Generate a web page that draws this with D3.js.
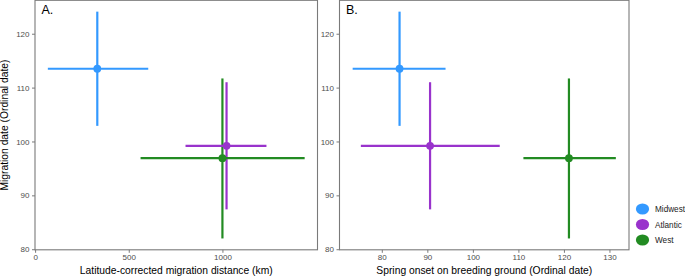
<!DOCTYPE html>
<html>
<head>
<meta charset="utf-8">
<script src="https://cdn.jsdelivr.net/npm/d3@7"></script>
<style>
  html, body { margin: 0; padding: 0; background: #fff; }
  svg { display: block; }
  text { font-family: "Liberation Sans", Arial, Helvetica, sans-serif; }
</style>
</head>
<body>
<svg id="chart" width="685" height="277"></svg>
<script>
// ---- data ----
const groups = ["Midwest", "Atlantic", "West"];
const groupColors = ["#3399FF", "#9933CC", "#228B22"];

// Panel A: latitude-corrected migration distance (km)
const distance     = [332, 1022, 1000];
const distanceLow  = [68, 803, 563];
const distanceHigh = [604, 1235, 1439];

// Migration date (ordinal date) - shared y
const migDate     = [113.5, 99.2, 96.9];
const migDateLow  = [102.9, 87.4, 82.0];
const migDateHigh = [124.1, 111.0, 111.7];

// Panel B: spring onset on breeding ground (ordinal date)
const onset     = [83.9, 90.6, 121.1];
const onsetLow  = [73.6, 75.4, 111.1];
const onsetHigh = [94.0, 105.9, 131.4];

const yTicks  = [80, 90, 100, 110, 120];
const xTicksA = [0, 500, 1000];
const xTicksB = [80, 90, 100, 110, 120, 130];

const panelLabels = ["A.", "B."];
const xTitles = ["Latitude-corrected migration distance (km)", "Spring onset on breeding ground (Ordinal date)"];
const yTitle = "Migration date (Ordinal date)";

// ---- layout ----
const svg = d3.select("#chart");
const plotTop = 0.3, plotBottom = 249.8;

function expand(lo, hi, f = 0.05) {
  const w = hi - lo;
  return [lo - w * f, hi + w * f];
}

const yScale = d3.scaleLinear()
  .domain(expand(d3.min(migDateLow), d3.max(migDateHigh)))
  .range([plotBottom, plotTop]);

const panels = [
  {
    label: panelLabels[0], title: xTitles[0], ticks: xTicksA,
    x: d3.scaleLinear().domain(expand(d3.min(distanceLow), d3.max(distanceHigh))).range([35, 317.5]),
    xv: distance, xlo: distanceLow, xhi: distanceHigh
  },
  {
    label: panelLabels[1], title: xTitles[1], ticks: xTicksB,
    x: d3.scaleLinear().domain(expand(d3.min(onsetLow), d3.max(onsetHigh))).range([339.5, 629]),
    xv: onset, xlo: onsetLow, xhi: onsetHigh
  }
];

const axisGray = "#7a7a7a";
const tickText = "#4d4d4d";

panels.forEach(p => {
  const [x0, x1] = p.x.range();
  const g = svg.append("g");

  // y axis
  const ya = g.append("g").attr("transform", `translate(${x0},0)`)
    .call(d3.axisLeft(yScale).tickValues(yTicks).tickSize(3).tickPadding(2.5).tickFormat(d3.format("d")));
  ya.select(".domain").remove();
  ya.selectAll(".tick line").attr("stroke", axisGray).attr("stroke-width", 1);
  ya.selectAll(".tick text").attr("fill", tickText).style("font-size", "8px")
    .attr("font-family", "Liberation Sans, Arial, sans-serif");

  // x axis
  const xa = g.append("g").attr("transform", `translate(0,${plotBottom})`)
    .call(d3.axisBottom(p.x).tickValues(p.ticks).tickSize(3).tickPadding(2).tickFormat(d3.format("d")));
  xa.select(".domain").remove();
  xa.selectAll(".tick line").attr("stroke", axisGray).attr("stroke-width", 1);
  xa.selectAll(".tick text").attr("fill", tickText).style("font-size", "8px")
    .attr("font-family", "Liberation Sans, Arial, sans-serif");

  // panel border
  g.append("rect")
    .attr("x", x0).attr("y", plotTop)
    .attr("width", x1 - x0).attr("height", plotBottom - plotTop)
    .attr("fill", "none").attr("stroke", axisGray).attr("stroke-width", 1.1);

  // vertical error bars
  g.selectAll(".vbar").data(groups).join("line").attr("class", "vbar")
    .attr("x1", (d, i) => p.x(p.xv[i])).attr("x2", (d, i) => p.x(p.xv[i]))
    .attr("y1", (d, i) => yScale(migDateLow[i])).attr("y2", (d, i) => yScale(migDateHigh[i]))
    .attr("stroke", (d, i) => groupColors[i]).attr("stroke-width", 2.2);

  // horizontal error bars
  g.selectAll(".hbar").data(groups).join("line").attr("class", "hbar")
    .attr("x1", (d, i) => p.x(p.xlo[i])).attr("x2", (d, i) => p.x(p.xhi[i]))
    .attr("y1", (d, i) => yScale(migDate[i])).attr("y2", (d, i) => yScale(migDate[i]))
    .attr("stroke", (d, i) => groupColors[i]).attr("stroke-width", 2.2);

  // points
  g.selectAll(".pt").data(groups).join("circle").attr("class", "pt")
    .attr("cx", (d, i) => p.x(p.xv[i])).attr("cy", (d, i) => yScale(migDate[i]))
    .attr("r", 3.9).attr("fill", (d, i) => groupColors[i]);

  // panel label
  g.append("text").attr("x", x0 + 6.5).attr("y", 14)
    .style("font-size", "12.5px").attr("fill", "#000").text(p.label);

  // x title
  g.append("text").attr("x", (x0 + x1) / 2).attr("y", 274)
    .attr("text-anchor", "middle").style("font-size", "10.3px").attr("fill", "#000").text(p.title);
});

// y title
svg.append("text")
  .attr("transform", `translate(8,${(plotTop + plotBottom) / 2}) rotate(-90)`)
  .attr("text-anchor", "middle").style("font-size", "10.3px").attr("fill", "#000").text(yTitle);

// legend
const legend = svg.append("g");
const legendY = d3.scalePoint().domain(groups).range([209, 240]);
legend.selectAll("ellipse").data(groups).join("ellipse")
  .attr("cx", 642.5).attr("cy", d => legendY(d))
  .attr("rx", 6.6).attr("ry", 5.5)
  .attr("fill", (d, i) => groupColors[i]);
legend.selectAll("text").data(groups).join("text")
  .attr("x", 655).attr("y", d => legendY(d) + 3)
  .style("font-size", "8.2px").attr("fill", "#1a1a1a").text(d => d);
</script>
</body>
</html>
